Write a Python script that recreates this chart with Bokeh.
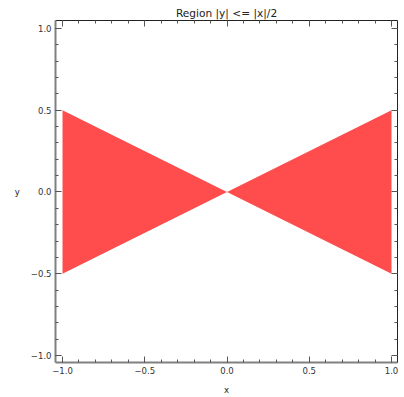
from bokeh.plotting import figure
from bokeh.models import Range1d, LinearAxis, FixedTicker
from bokeh.embed import file_html
from bokeh.resources import INLINE

# Region |y| <= |x|/2 boundary samples
x_edge = [-1.0, 0.0, 1.0]
y_upper = [0.5, 0.0, 0.5]
y_lower = [-0.5, 0.0, -0.5]

major_ticks = [-1.0, -0.5, 0.0, 0.5, 1.0]
minor_ticks = [round(-1.0 + 0.1 * i, 1) for i in range(21)]
tick_labels = ["\u22121.0", "\u22120.5", "0.0", "0.5", "1.0"]

title_text = "Region |y| <= |x|/2"
x_label = "x"
y_label = "y"

FONT = "DejaVu Sans"
fill_color = "#FF4D4D"

p = figure(width=404, height=397, output_backend="svg", toolbar_location=None,
           x_range=Range1d(-1.0426, 1.0365), y_range=Range1d(-1.0427, 1.0488),
           x_axis_location=None, y_axis_location=None,
           min_border_left=55, min_border_right=7, min_border_top=20, min_border_bottom=34)
p.grid.visible = False
p.outline_line_color = None
p.background_fill_color = "white"
p.border_fill_color = "white"

p.title.text = title_text
p.title.align = "center"
p.title.text_font = FONT
p.title.text_font_size = "10.6px"
p.title.text_font_style = "normal"
p.title.text_color = "#222222"
p.title.standoff = 3
p.title.offset = 0

p.varea(x=x_edge, y1=y_lower, y2=y_upper, fill_color=fill_color, fill_alpha=1.0)

overrides = {v: t for v, t in zip(major_ticks, tick_labels)}

def make_axis(labels, line_color, line_width, label=None):
    ax = LinearAxis(ticker=FixedTicker(ticks=major_ticks, minor_ticks=minor_ticks))
    ax.major_tick_in = 6
    ax.major_tick_out = 0
    ax.minor_tick_in = 3
    ax.minor_tick_out = 0
    ax.major_tick_line_color = "#555555"
    ax.minor_tick_line_color = "#555555"
    ax.axis_line_color = line_color
    ax.axis_line_width = line_width
    if labels:
        ax.major_label_overrides = overrides
        ax.major_label_text_font = FONT
        ax.major_label_text_font_size = "8.5px"
        ax.major_label_text_color = "#333333"
        ax.major_label_standoff = 4
    else:
        ax.major_label_text_font_size = "0px"
        ax.major_label_text_color = None
        ax.major_label_standoff = 0
    if label:
        ax.axis_label = label
        ax.axis_label_text_font = FONT
        ax.axis_label_text_font_size = "8.5px"
        ax.axis_label_text_font_style = "normal"
        ax.axis_label_text_color = "#222222"
        ax.axis_label_standoff = 8
    return ax

p.add_layout(make_axis(True, "#808080", 2, x_label), "below")
yax = make_axis(True, "#808080", 2, y_label)
yax.axis_label_orientation = "horizontal"
p.add_layout(yax, "left")
p.add_layout(make_axis(False, "#222222", 1), "above")
p.add_layout(make_axis(False, "#222222", 1), "right")

open("out.html", "w").write(file_html(p, INLINE))
